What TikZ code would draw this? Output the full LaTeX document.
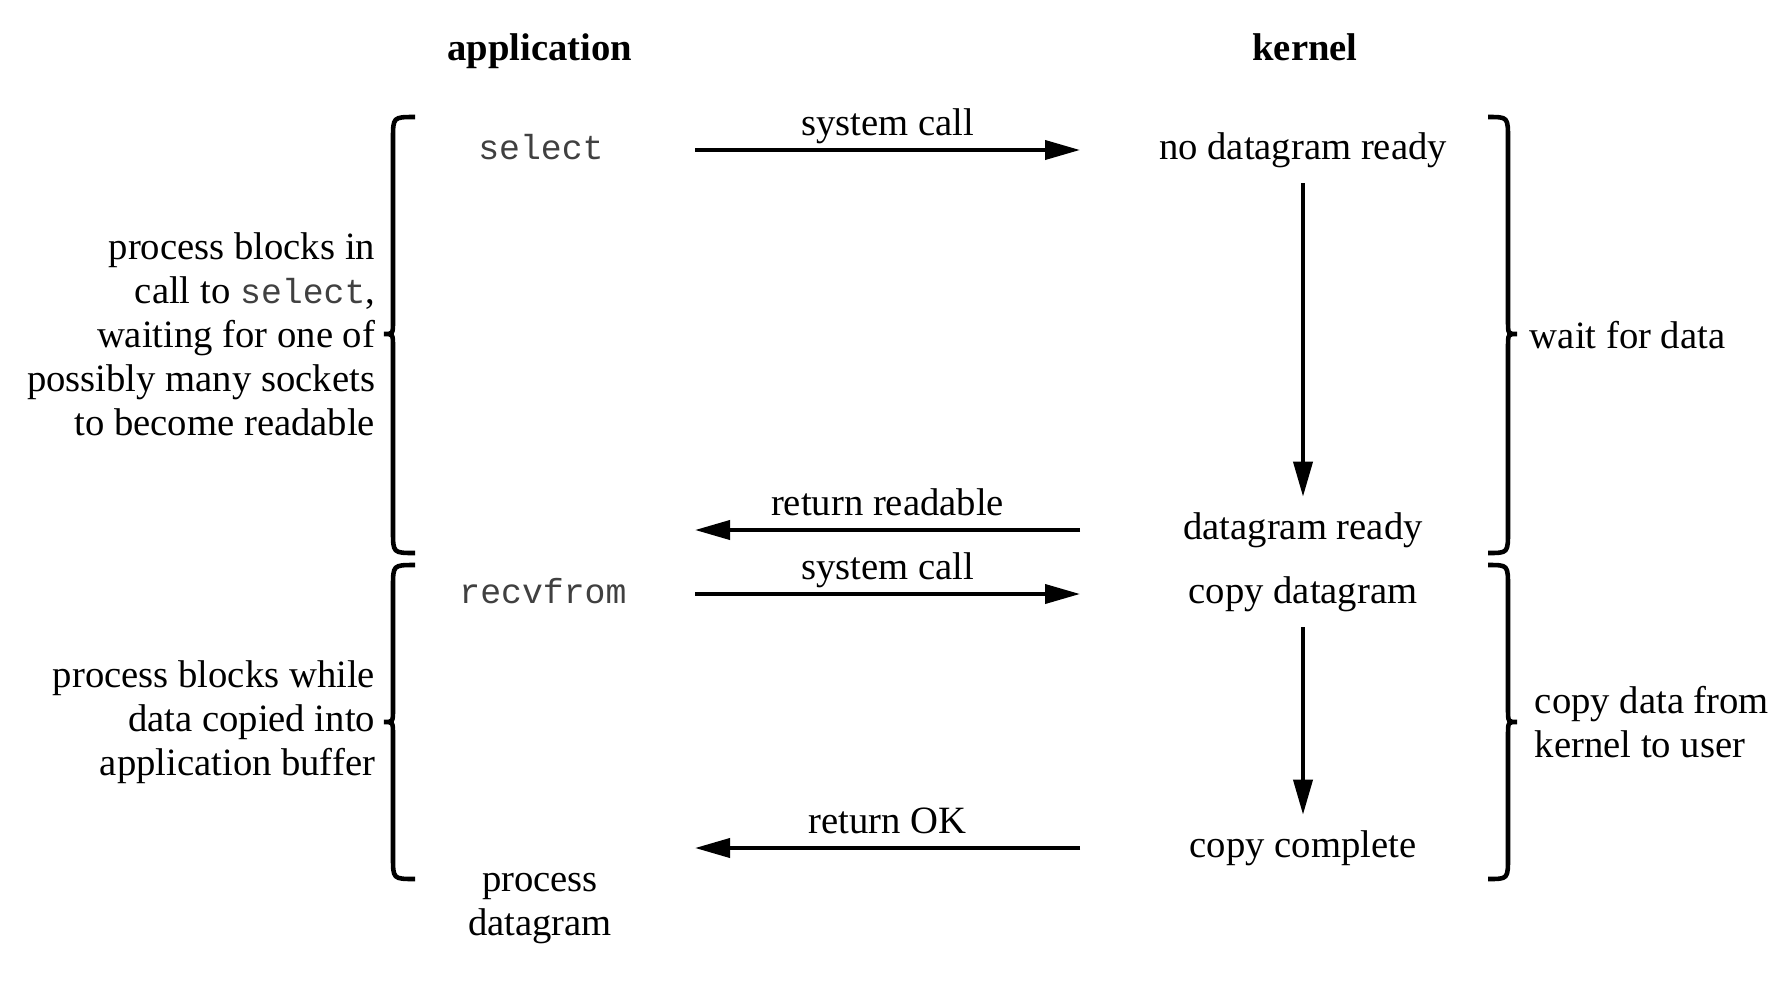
\documentclass[tikz,border=0pt]{standalone}
\usepackage{fontspec}
\setmainfont{Liberation Serif}
\setmonofont[Scale=0.9]{Liberation Mono}
\usetikzlibrary{arrows.meta}

\begin{document}
\begin{tikzpicture}[>={Triangle[length=3.5mm,width=1.9mm]}, line width=1.1pt]
\tikzstyle{head}=[font=\fontsize{11}{12.5}\selectfont\bfseries, text height=8.4pt, text depth=2.8pt]
\tikzstyle{event}=[font=\fontsize{11}{12.5}\selectfont, text height=8.4pt, text depth=2.8pt]
\tikzstyle{call}=[font=\fontsize{11}{12.5}\selectfont\ttfamily, text=black!75, text height=8.4pt, text depth=2.8pt]
\tikzstyle{msg}=[font=\fontsize{11}{12.5}\selectfont, anchor=base, yshift=4.2pt]
\tikzstyle{side}=[font=\fontsize{11}{12.5}\selectfont, inner sep=0pt]
\tikzstyle{brace}=[line width=1.3pt]

\useasboundingbox (0,0) rectangle (17.84,9.86);

%get headings.
\node[head] (app)  at (5.40,9.35) {application};
\node[head] (kern) at (13.05,9.35) {kernel};

\coordinate (appEdge)  at (6.95,0);
\coordinate (kernEdge) at (10.80,0);

%select phase.
\node[call]  (select)  at (5.41,8.36) {select};
\node[event] (noDgram) at (13.03,8.36) {no datagram ready};
\node[event] (dgReady) at (13.03,4.56) {datagram ready};

\draw[->] (select -| appEdge) -- (noDgram -| kernEdge) node[msg, midway] {system call};
\draw[->] (noDgram) -- (dgReady);
\draw[->] (dgReady -| kernEdge) -- (dgReady -| appEdge) node[msg, midway] {return readable};

%recvfrom phase.
\node[call]  (recvfrom) at (5.43,3.92) {recvfrom};
\node[event] (copyDgram) at (13.03,3.92) {copy datagram};
\node[event] (copyDone)  at (13.03,1.38) {copy complete};
\node[event, align=center, text height=, text depth=] (procDgram) at (5.40,0.77) {process\\datagram};

\draw[->] (recvfrom -| appEdge) -- (copyDgram -| kernEdge) node[msg, midway] {system call};
\draw[->] (copyDgram) -- (copyDone);
\draw[->] (copyDone -| kernEdge) -- (copyDone -| appEdge) node[msg, midway] {return OK};

%braces on the left.
\draw[brace] (4.15,8.69) .. controls (3.93,8.69) .. (3.93,8.47) -- (3.93,6.65) .. controls (3.93,6.52) .. (3.84,6.52) .. controls (3.93,6.52) .. (3.93,6.39) -- (3.93,4.55) .. controls (3.93,4.33) .. (4.15,4.33);
\draw[brace] (4.15,4.21) .. controls (3.93,4.21) .. (3.93,3.99) -- (3.93,2.77) .. controls (3.93,2.64) .. (3.84,2.64) .. controls (3.93,2.64) .. (3.93,2.51) -- (3.93,1.29) .. controls (3.93,1.07) .. (4.15,1.07);

\node[side, anchor=east, align=right] (selectNote) at (3.77,6.52) {process blocks in\\call to \texttt{\color{black!75}select},\\waiting for one of\\possibly many sockets\\to become readable};
\node[side, anchor=east, align=right] (recvNote) at (3.77,2.64) {process blocks while\\data copied into\\application buffer};

%braces on the right.
\draw[brace] (14.88,8.69) .. controls (15.08,8.69) .. (15.08,8.47) -- (15.08,6.65) .. controls (15.08,6.52) .. (15.17,6.52) .. controls (15.08,6.52) .. (15.08,6.39) -- (15.08,4.55) .. controls (15.08,4.33) .. (14.88,4.33);
\draw[brace] (14.88,4.21) .. controls (15.08,4.21) .. (15.08,3.99) -- (15.08,2.77) .. controls (15.08,2.64) .. (15.17,2.64) .. controls (15.08,2.64) .. (15.08,2.51) -- (15.08,1.29) .. controls (15.08,1.07) .. (14.88,1.07);

\node[side, anchor=west] (waitNote) at (15.28,6.51) {wait for data};
\node[side, anchor=west, align=left] (copyNote) at (15.33,2.64) {copy data from\\kernel to user};

\end{tikzpicture}
\end{document}
